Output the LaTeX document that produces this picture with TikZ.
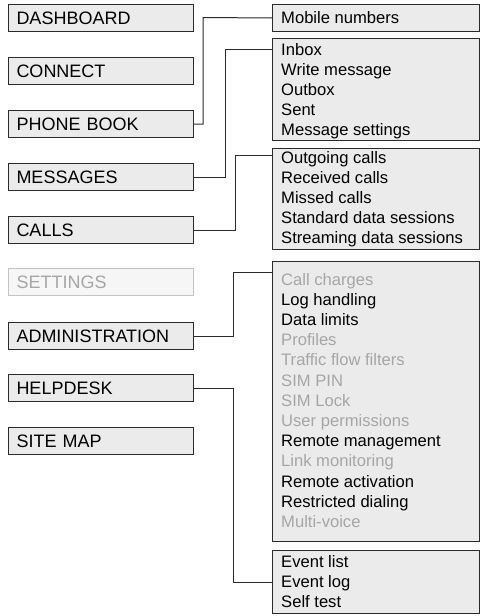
\documentclass[tikz,border=0pt]{standalone}
\usepackage{fontspec}
\setmainfont{Liberation Sans}
\definecolor{boxfill}{HTML}{EBEBEB}
\definecolor{edge}{HTML}{2A2A2A}
\definecolor{dim}{HTML}{A6A6A6}
\definecolor{dimedge}{HTML}{C4C4C4}
\definecolor{dimfill}{HTML}{F6F6F6}
\tikzset{
 mainbox/.style={draw=edge, fill=boxfill, line width=1pt, anchor=north west, minimum height=27pt, text width=169pt, inner xsep=8pt, inner ysep=0pt, align=left, font=\fontsize{18}{20}\selectfont},
 dimbox/.style={mainbox, draw=dimedge, fill=dimfill, text=dim},
 listbox/.style={draw=edge, fill=boxfill, line width=1pt, anchor=north west, minimum width=207pt, inner sep=0pt},
 item/.style={anchor=base west, inner sep=0pt, font=\fontsize{16.6}{20}\selectfont},
 ditem/.style={item, text=dim},
 conn/.style={draw=edge, line width=1pt},
}
\begin{document}
\begin{tikzpicture}[x=1pt, y=-1pt]
\useasboundingbox (0,0) rectangle (483,616);
% main menu
\node[mainbox] (dash) at (8,4) {DASHBOARD};
\node[mainbox] (connect) at (8,57) {CONNECT};
\node[mainbox] (phone) at (8,110) {PHONE BOOK};
\node[mainbox] (messages) at (8,163) {MESSAGES};
\node[mainbox] (calls) at (8,216) {CALLS};
\node[dimbox] (settings) at (8,268) {SETTINGS};
\node[mainbox] (admin) at (8,322) {ADMINISTRATION};
\node[mainbox] (help) at (8,374) {HELPDESK};
\node[mainbox] (sitemap) at (8,427) {SITE MAP};
% sub-menu boxes
\node[listbox, minimum height=27pt] (mobilebox) at (272,4) {};
\node[listbox, minimum height=102pt] (msgbox) at (272,38) {};
\node[listbox, minimum height=101pt] (callbox) at (272,148) {};
\node[listbox, minimum height=280pt] (admbox) at (272,261) {};
\node[listbox, minimum height=63pt] (helpbox) at (272,550) {};
% items
\node[item] (mob1) at (281,23) {Mobile numbers};
\node[item] (msg1) at (281,55) {Inbox};
\node[item] (msg2) at (281,75) {Write message};
\node[item] (msg3) at (281,95) {Outbox};
\node[item] (msg4) at (281,115) {Sent};
\node[item] (msg5) at (281,135) {Message settings};
\node[item] (cal1) at (281,163) {Outgoing calls};
\node[item] (cal2) at (281,183) {Received calls};
\node[item] (cal3) at (281,203) {Missed calls};
\node[item] (cal4) at (281,223) {Standard data sessions};
\node[item] (cal5) at (281,243) {Streaming data sessions};
\node[ditem] (adm1) at (281,285) {Call charges};
\node[item] (adm2) at (281,305.2) {Log handling};
\node[item] (adm3) at (281,325.4) {Data limits};
\node[ditem] (adm4) at (281,345.6) {Profiles};
\node[ditem] (adm5) at (281,365.8) {Traffic flow filters};
\node[ditem] (adm6) at (281,386) {SIM PIN};
\node[ditem] (adm7) at (281,406.2) {SIM Lock};
\node[ditem] (adm8) at (281,426.4) {User permissions};
\node[item] (adm9) at (281,446.6) {Remote management};
\node[ditem] (adm10) at (281,466.8) {Link monitoring};
\node[item] (adm11) at (281,487) {Remote activation};
\node[item] (adm12) at (281,507.2) {Restricted dialing};
\node[ditem] (adm13) at (281,527.4) {Multi-voice};
\node[item] (hlp1) at (281,567) {Event list};
\node[item] (hlp2) at (281,587) {Event log};
\node[item] (hlp3) at (281,607) {Self test};
% connectors
\draw[conn] (phone.east) -| (203,17.5) -- (mobilebox.west);
\draw[conn] (messages.east) -| (225,49) -- (msgbox.west |- 0,49);
\draw[conn] (calls.east) -| (235,155) -- (callbox.west |- 0,155);
\draw[conn] (admin.east) -| (233,272) -- (admbox.west |- 0,272);
\draw[conn] (help.east) -| (233,582) -- (helpbox.west |- 0,582);
\end{tikzpicture}
\end{document}
